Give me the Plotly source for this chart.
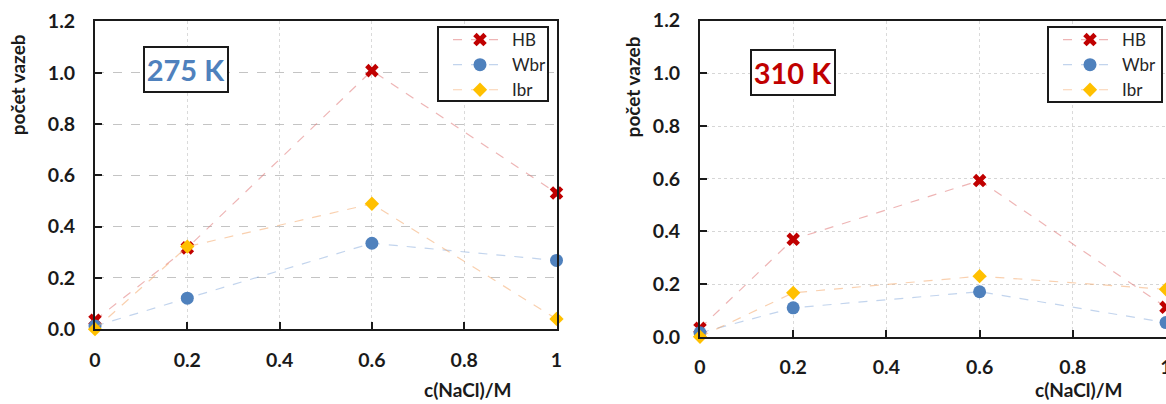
import plotly.graph_objects as go

# NaCl concentration (M)
conc = [0, 0.2, 0.6, 1.0]

# Number of bonds at 275 K
hb_275 = [0.035, 0.317, 1.008, 0.531]
wbr_275 = [0.012, 0.121, 0.335, 0.268]
ibr_275 = [0.0, 0.322, 0.489, 0.040]

# Number of bonds at 310 K
hb_310 = [0.032, 0.370, 0.593, 0.112]
wbr_310 = [0.015, 0.110, 0.171, 0.054]
ibr_310 = [0.0, 0.167, 0.230, 0.180]

series_names = ["HB", "Wbr", "Ibr"]
x_ticks = [0, 0.2, 0.4, 0.6, 0.8, 1.0]
x_tick_text = ["0", "0.2", "0.4", "0.6", "0.8", "1"]
y_ticks = [0, 0.2, 0.4, 0.6, 0.8, 1.0, 1.2]
y_tick_text = ["0.0", "0.2", "0.4", "0.6", "0.8", "1.0", "1.2"]

FONT = "Lato, 'Open Sans', sans-serif"
W, H = 1166, 404

styles = {
    "HB": dict(line_color="rgba(224,120,120,0.55)",
               marker=dict(symbol="x", size=12, color="#C00000", line=dict(width=0))),
    "Wbr": dict(line_color="rgba(120,160,215,0.45)",
                marker=dict(symbol="circle", size=13, color="#4F81BD", line=dict(width=0))),
    "Ibr": dict(line_color="rgba(244,170,110,0.55)",
                marker=dict(symbol="diamond", size=11, color="#FFC000", line=dict(width=0))),
}

fig = go.Figure()

panels = [
    ("x", "y", "legend", [hb_275, wbr_275, ibr_275]),
    ("x2", "y2", "legend2", [hb_310, wbr_310, ibr_310]),
]
for xa, ya, lg, values in panels:
    for name, vals in zip(series_names, values):
        st = styles[name]
        fig.add_trace(go.Scatter(
            x=conc, y=vals, name=name, mode="lines+markers",
            xaxis=xa, yaxis=ya, legend=lg, legendgroup=lg + name,
            line=dict(color=st["line_color"], width=1.2, dash="dash"),
            marker=st["marker"], cliponaxis=False,
        ))


def px_x(p):
    return p / W


def px_y(p):
    return (H - p) / H


axis_common = dict(
    showline=True, linecolor="#1a1a1a", linewidth=2,
    ticks="inside", ticklen=7, tickwidth=1.5, tickcolor="#1a1a1a",
    zeroline=False, automargin=False,
    tickfont=dict(family=FONT, size=19.5, color="#1a1a1a", weight="bold"),
)

legend_common = dict(
    xanchor="left", yanchor="top",
    bgcolor="rgba(0,0,0,0)", borderwidth=0,
    font=dict(family=FONT, size=17, color="#262626"),
    tracegroupgap=0, itemwidth=54, indentation=10,
)

fig.update_layout(
    width=W, height=H,
    margin=dict(l=0, r=0, t=0, b=0, autoexpand=False),
    paper_bgcolor="white", plot_bgcolor="white",
    showlegend=True,
    xaxis=dict(domain=[px_x(95), px_x(556.5)], range=[0, 1], anchor="y",
               tickvals=x_ticks, ticktext=x_tick_text, mirror=True,
               showgrid=True, gridcolor="#DADADA", griddash="dot", gridwidth=1,
               ticklabelstandoff=12, **axis_common),
    yaxis=dict(domain=[px_y(329.2), px_y(21.4)], range=[0, 1.2], anchor="x",
               tickvals=y_ticks, ticktext=y_tick_text, mirror=True,
               showgrid=True, gridcolor="#C4C4C4", griddash="dash", gridwidth=1,
               ticklabelstandoff=14, **axis_common),
    xaxis2=dict(domain=[px_x(700), 1.0], range=[0, 1], anchor="y2",
                tickvals=x_ticks, ticktext=x_tick_text, mirror=True,
                showgrid=True, gridcolor="#DADADA", griddash="dot", gridwidth=1,
                ticklabelstandoff=12, ticklabeloverflow="allow",
                **axis_common),
    yaxis2=dict(domain=[px_y(336.8), px_y(20.6)], range=[0, 1.2], anchor="x2",
                tickvals=y_ticks, ticktext=y_tick_text, mirror=False,
                showgrid=True, gridcolor="#D6D6D6", griddash="dot", gridwidth=1,
                ticklabelstandoff=14, **axis_common),
    legend=dict(x=px_x(438), y=px_y(22), **legend_common),
    legend2=dict(x=px_x(1048), y=px_y(22), **legend_common),
)

# Legend frames (white boxes with a dark border)
shapes = []
for x0, y0, x1, y1 in [(438, 27, 548, 101), (1048, 27, 1162, 102)]:
    shapes.append(dict(
        type="rect", xref="paper", yref="paper",
        x0=px_x(x0), x1=px_x(x1), y0=px_y(y1), y1=px_y(y0),
        line=dict(color="#1a1a1a", width=2), fillcolor="white", layer="above",
    ))
fig.update_layout(shapes=shapes)

annotations = []
# Temperature labels in framed boxes
for label, cx, cy, color in [("275 K", 186.3, 69.7, "#4F81BD"),
                             ("310 K", 792.5, 72.5, "#C00000")]:
    annotations.append(dict(
        text=label, x=px_x(cx), y=px_y(cy), xref="paper", yref="paper",
        showarrow=False, xanchor="center", yanchor="middle",
        font=dict(family=FONT, size=29, color=color, weight="bold"),
        bordercolor="#1a1a1a", borderwidth=2, borderpad=0,
        bgcolor="white", width=82, height=43,
    ))

# Axis titles
title_font = dict(family=FONT, size=19, color="#1a1a1a", weight="bold")
for cx, cy in [(18.3, 85), (632.7, 86.7)]:
    annotations.append(dict(
        text="počet vazeb", x=px_x(cx), y=px_y(cy), xref="paper", yref="paper",
        showarrow=False, textangle=-90, xanchor="center", yanchor="middle",
        font=title_font,
    ))
for cx, cy in [(468, 389), (1079, 389)]:
    annotations.append(dict(
        text="c(NaCl)/M", x=px_x(cx), y=px_y(cy), xref="paper", yref="paper",
        showarrow=False, xanchor="center", yanchor="middle",
        font=title_font,
    ))

fig.update_layout(annotations=annotations)

fig.write_html("out.html")
